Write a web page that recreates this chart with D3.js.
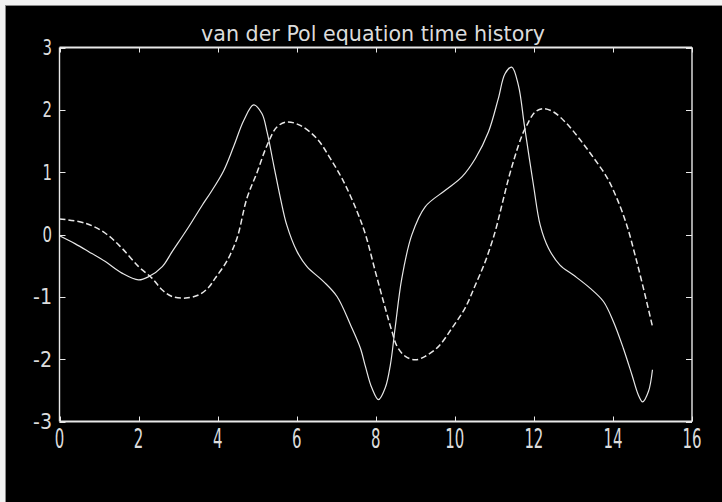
<!DOCTYPE html>
<html>
<head>
<meta charset="utf-8">
<script src="https://cdn.jsdelivr.net/npm/d3@7"></script>
<style>
  html, body { margin: 0; padding: 0; background: #000; }
  svg { display: block; }
  text { fill: #dcdcdc; font-family: "Liberation Sans Narrow", "DejaVu Sans Condensed", sans-serif; }
</style>
</head>
<body>
<svg id="chart" width="722" height="502"></svg>
<script>
const chartTitle = "van der Pol equation time history";

const xTicks = [0, 2, 4, 6, 8, 10, 12, 14, 16];
const yTicks = [-3, -2, -1, 0, 1, 2, 3];

// solid curve
const tSolid = [0, 0.40, 0.74, 1.16, 1.58, 2.0, 2.26, 2.6, 2.85, 3.27, 3.61, 3.82, 4.15, 4.41, 4.66, 4.91, 5.12, 5.25, 5.42, 5.59, 5.75, 6.01, 6.26, 6.68, 7.02, 7.36, 7.61, 7.74, 7.90, 8.07, 8.24, 8.37, 8.49, 8.66, 8.91, 9.25, 9.76, 10.18, 10.52, 10.85, 11.10, 11.27, 11.44, 11.61, 11.76, 11.99, 12.16, 12.37, 12.66, 13.0, 13.42, 13.76, 14.01, 14.26, 14.48, 14.64, 14.75, 14.90, 15.0];
const ySolid = [-0.02, -0.15, -0.275, -0.435, -0.62, -0.728, -0.675, -0.515, -0.275, 0.125, 0.47, 0.67, 1.02, 1.42, 1.83, 2.08, 1.94, 1.645, 1.11, 0.58, 0.15, -0.275, -0.515, -0.755, -0.995, -1.448, -1.82, -2.12, -2.46, -2.65, -2.46, -2.09, -1.50, -0.70, -0.01, 0.445, 0.71, 0.925, 1.22, 1.645, 2.18, 2.58, 2.685, 2.39, 1.75, 0.79, 0.15, -0.22, -0.49, -0.65, -0.86, -1.075, -1.395, -1.82, -2.25, -2.57, -2.685, -2.515, -2.17];

// dashed curve
const tDashed = [0, 0.66, 1.16, 1.58, 2.0, 2.34, 2.6, 2.85, 3.19, 3.52, 3.77, 3.94, 4.24, 4.49, 4.74, 5.0, 5.25, 5.50, 5.75, 6.09, 6.51, 6.85, 7.19, 7.53, 7.74, 7.99, 8.24, 8.41, 8.54, 8.75, 9.0, 9.25, 9.59, 9.93, 10.26, 10.52, 10.77, 11.02, 11.19, 11.36, 11.53, 11.70, 11.82, 12.03, 12.24, 12.50, 12.83, 13.17, 13.51, 13.84, 14.10, 14.35, 14.56, 14.77, 15.0];
const yDashed = [0.25, 0.18, 0.02, -0.22, -0.515, -0.70, -0.89, -0.995, -1.02, -0.97, -0.85, -0.70, -0.42, -0.06, 0.58, 1.0, 1.43, 1.725, 1.805, 1.75, 1.54, 1.22, 0.845, 0.365, 0.0, -0.595, -1.18, -1.555, -1.795, -1.955, -2.01, -1.955, -1.795, -1.50, -1.18, -0.81, -0.435, 0.045, 0.47, 0.90, 1.27, 1.59, 1.75, 1.965, 2.02, 1.965, 1.78, 1.52, 1.23, 0.925, 0.58, 0.15, -0.33, -0.86, -1.475];

(function () {
const svg = d3.select("#chart");
const W = 722, H = 502;
const pLeft = 59.5, pRight = 692, pTop = 47.5, pBottom = 421.5;

svg.append("rect").attr("width", W).attr("height", H).attr("fill", "#000");
// light window border at top and left
svg.append("rect").attr("x", 0).attr("y", 0).attr("width", W).attr("height", 5).attr("fill", "#f2f2f2");
svg.append("rect").attr("x", 0).attr("y", 0).attr("width", 5).attr("height", H).attr("fill", "#f2f2f2");
svg.append("line").attr("x1", 5).attr("x2", W).attr("y1", 5.5).attr("y2", 5.5).attr("stroke", "#8a8a8a");
svg.append("line").attr("x1", 5.5).attr("x2", 5.5).attr("y1", 5).attr("y2", H).attr("stroke", "#8a8a8a");

const x = d3.scaleLinear().domain([0, 16]).range([pLeft, pRight]);
const y = d3.scaleLinear().domain([-3, 3]).range([pBottom, pTop]);

const fg = "#e8e8e8";

// frame
svg.append("line").attr("x1", pLeft).attr("x2", pRight).attr("y1", pTop).attr("y2", pTop).attr("stroke", fg).attr("stroke-width", 2.2);
svg.append("line").attr("x1", pLeft).attr("x2", pRight).attr("y1", pBottom).attr("y2", pBottom).attr("stroke", fg).attr("stroke-width", 2.2);
svg.append("line").attr("x1", pLeft).attr("x2", pLeft).attr("y1", pTop).attr("y2", pBottom).attr("stroke", fg).attr("stroke-width", 1.4);
svg.append("line").attr("x1", pRight).attr("x2", pRight).attr("y1", pTop).attr("y2", pBottom).attr("stroke", fg).attr("stroke-width", 1.4);

// ticks
const g = svg.append("g");
xTicks.forEach(v => {
  const px = Math.round(x(v)) + 0.5;
  g.append("line").attr("x1", px).attr("x2", px).attr("y1", pTop).attr("y2", pTop + 5).attr("stroke", fg);
  g.append("line").attr("x1", px).attr("x2", px).attr("y1", pBottom).attr("y2", pBottom - 5).attr("stroke", fg);
  g.append("text")
    .attr("x", x(v)).attr("y", 448)
    .attr("text-anchor", "middle")
    .attr("font-size", 27)
    .attr("textLength", String(v).length * 9.5)
    .attr("lengthAdjust", "spacingAndGlyphs")
    .text(v);
});
yTicks.forEach(v => {
  const py = Math.round(y(v)) + 0.5;
  g.append("line").attr("x1", pLeft).attr("x2", pLeft + 6).attr("y1", py).attr("y2", py).attr("stroke", fg);
  g.append("line").attr("x1", pRight).attr("x2", pRight - 6).attr("y1", py).attr("y2", py).attr("stroke", fg);
  const s = v < 0 ? "-" + Math.abs(v) : String(v);
  g.append("text")
    .attr("x", 52).attr("y", y(v) + 7.5)
    .attr("text-anchor", "end")
    .attr("font-size", 21)
    .attr("textLength", s.length * 9.5)
    .attr("lengthAdjust", "spacingAndGlyphs")
    .text(s);
});

// title
svg.append("text")
  .attr("x", 373).attr("y", 41)
  .attr("text-anchor", "middle")
  .attr("font-size", 22)
  .attr("textLength", 344)
  .attr("lengthAdjust", "spacingAndGlyphs")
  .text(chartTitle);

const line = d3.line()
  .x(d => x(d[0]))
  .y(d => y(d[1]))
  .curve(d3.curveCatmullRom.alpha(0.5));

const solidData = tSolid.map((t, i) => [t, ySolid[i]]);
const dashedData = tDashed.map((t, i) => [t, yDashed[i]]);

svg.append("path")
  .datum(solidData)
  .attr("d", line)
  .attr("fill", "none")
  .attr("stroke", fg)
  .attr("stroke-width", 1.2);

svg.append("path")
  .datum(dashedData)
  .attr("d", line)
  .attr("fill", "none")
  .attr("stroke", fg)
  .attr("stroke-width", 1.5)
  .attr("stroke-dasharray", "6,3");
})();
</script>
</body>
</html>
